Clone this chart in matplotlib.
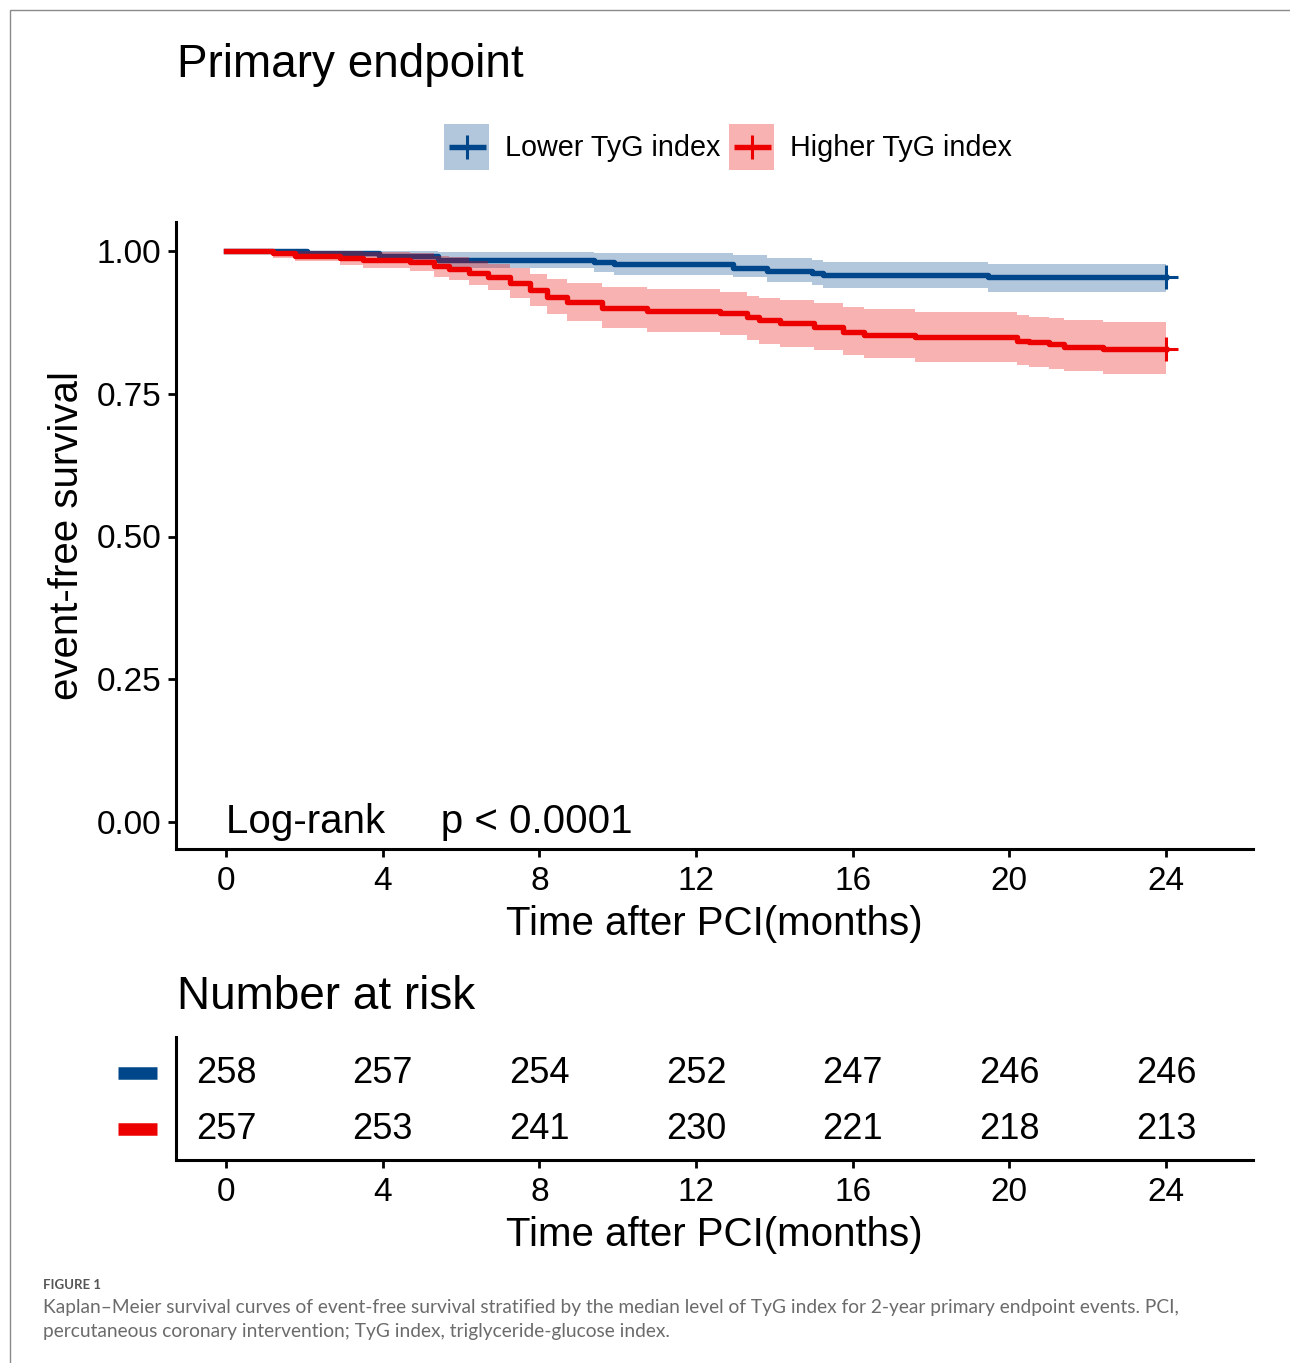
import matplotlib
matplotlib.use("Agg")
import matplotlib.pyplot as plt
import matplotlib.transforms as mtransforms
from matplotlib.patches import Patch, Rectangle
from matplotlib.lines import Line2D
from matplotlib.legend_handler import HandlerTuple, HandlerBase

plt.rcParams['font.family'] = ['Liberation Sans', 'DejaVu Sans']

# ---------------- data ----------------
groups = ["Lower TyG index", "Higher TyG index"]
colors = ["#00468B", "#ED0000"]

low_time = [0, 2.07, 3.9, 5.4, 9.4, 9.9, 12.95, 13.8, 14.97, 15.24, 19.45]
low_surv = [1.0, 0.996, 0.992, 0.984, 0.980, 0.977, 0.971, 0.965, 0.961, 0.958, 0.954]
low_lo = [1.0, 0.989, 0.981, 0.970, 0.963, 0.958, 0.955, 0.946, 0.940, 0.935, 0.929]
low_hi = [1.0, 1.0, 1.0, 0.999, 0.997, 0.996, 0.993, 0.987, 0.984, 0.981, 0.978]

high_time = [0, 1.2, 1.76, 2.9, 3.5, 4.7, 5.3, 5.7, 6.2, 6.7, 7.25, 7.76, 8.2, 8.7,
             9.6, 10.75, 12.6, 13.3, 13.6, 14.15, 15.0, 15.75, 16.3, 17.6, 20.2,
             20.5, 21.0, 21.4, 22.4]
high_surv = [1.0, 0.996, 0.992, 0.988, 0.984, 0.980, 0.973, 0.969, 0.961, 0.955, 0.944,
             0.932, 0.920, 0.911, 0.900, 0.895, 0.891, 0.885, 0.879, 0.874, 0.867, 0.859,
             0.853, 0.849, 0.843, 0.840, 0.837, 0.832, 0.828]
high_lo = [1.0, 0.988, 0.982, 0.975, 0.970, 0.965, 0.955, 0.949, 0.940, 0.932, 0.918,
           0.903, 0.889, 0.878, 0.865, 0.859, 0.853, 0.845, 0.838, 0.832, 0.826, 0.818,
           0.812, 0.806, 0.800, 0.797, 0.793, 0.789, 0.785]
high_hi = [1.0, 1.0, 1.0, 1.0, 0.999, 0.996, 0.991, 0.989, 0.983, 0.978, 0.970, 0.960,
           0.951, 0.944, 0.937, 0.933, 0.928, 0.922, 0.918, 0.914, 0.909, 0.902, 0.898,
           0.894, 0.888, 0.885, 0.882, 0.879, 0.876]

end_time = 24
risk_times = [0, 4, 8, 12, 16, 20, 24]
risk_low = [258, 257, 254, 252, 247, 246, 246]
risk_high = [257, 253, 241, 230, 221, 218, 213]

x_ticks = [0, 4, 8, 12, 16, 20, 24]
y_ticks = [0.0, 0.25, 0.50, 0.75, 1.0]
y_ticklabels = ["0.00", "0.25", "0.50", "0.75", "1.00"]

title = "Primary endpoint"
xlabel = "Time after PCI(months)"
ylabel = "event-free survival"
pval_text = "Log-rank     p < 0.0001"
risk_title = "Number at risk"
caption_head = "FIGURE 1"
caption_lines = [
    "Kaplan\u2013Meier survival curves of event-free survival stratified by the median level of TyG index for 2-year primary endpoint events. PCI,",
    "percutaneous coronary intervention; TyG index, triglyceride-glucose index.",
]

# ---------------- figure ----------------
W, H = 1290, 1363
fig = plt.figure(figsize=(W / 100, H / 100), dpi=100)

def fx(px):
    return px / W

def fy(py):
    return 1 - py / H

# border
fig.patches.append(Rectangle((fx(10), -0.1), 1.2, fy(10) + 0.1, transform=fig.transFigure,
                             fill=False, ec="#8a8a8a", lw=1.0))

xlim = ((176 - 226) / 39.1667, (1253 - 226) / 39.1667)

ax = fig.add_axes([fx(176), fy(849), fx(1253) - fx(176), fy(222) - fy(849)])
ax.set_xlim(*xlim)
ax.set_ylim((822 - 849) / 571, 1 + (251 - 222) / 571)

LW = 3.9
series = [
    (low_time, low_surv, low_lo, low_hi),
    (high_time, high_surv, high_lo, high_hi),
]
for i, (t, s, lo, hi) in enumerate(series):
    tt = list(t) + [end_time]
    ss = list(s) + [s[-1]]
    ll = list(lo) + [lo[-1]]
    hh = list(hi) + [hi[-1]]
    ax.fill_between(tt, ll, hh, step="post", color=colors[i], alpha=0.3,
                    lw=0, zorder=1 + 2 * i)
    ax.step(tt, ss, where="post", color=colors[i], lw=LW, zorder=2 + 2 * i)
    ax.plot([end_time], [s[-1]], marker="+", ms=17, mew=2.2, color=colors[i], zorder=6)

for side in ["top", "right"]:
    ax.spines[side].set_visible(False)
for side in ["left", "bottom"]:
    ax.spines[side].set_linewidth(2.2)
ax.set_xticks(x_ticks)
ax.set_xticklabels([str(v) for v in x_ticks])
ax.set_yticks(y_ticks)
ax.set_yticklabels(y_ticklabels)
ax.tick_params(axis="both", labelsize=24, length=5.5, width=2.0, pad=5, colors="black")
ax.tick_params(axis="x", pad=6.5)
ax.set_xlabel(xlabel, fontsize=29, labelpad=6)
ax.set_ylabel(ylabel, fontsize=29, labelpad=8)
ax.text(0, 0, pval_text, fontsize=29, ha="left", va="center")

fig.text(fx(177), fy(65), title, fontsize=33, ha="left", va="center")


class CenteredLine(HandlerBase):
    def create_artists(self, legend, orig_handle, xdescent, ydescent, width, height,
                       fontsize, trans):
        yc = height / 2 - ydescent
        c = orig_handle.get_color()
        line = Line2D([-xdescent + 0.1 * width, -xdescent + 0.93 * width], [yc, yc],
                      color=c, lw=orig_handle.get_linewidth(), solid_capstyle="butt",
                      transform=trans)
        mark = Line2D([-xdescent + 0.5 * width], [yc], color=c, marker="+",
                      ms=orig_handle.get_markersize(),
                      mew=orig_handle.get_markeredgewidth(), ls="none", transform=trans)
        return [line, mark]


handles = [
    (Patch(fc=colors[0], alpha=0.3, ec="none"),
     Line2D([], [], color=colors[0], lw=LW, marker="+", ms=17, mew=2.2)),
    (Patch(fc=colors[1], alpha=0.3, ec="none"),
     Line2D([], [], color=colors[1], lw=LW, marker="+", ms=17, mew=2.2)),
]
fig.legend(handles, groups,
           handler_map={tuple: HandlerTuple(ndivide=1, pad=0), Line2D: CenteredLine()},
           loc="center", bbox_to_anchor=(fx(728), fy(147)), ncol=2, frameon=False,
           fontsize=20.7, handlelength=1.57, handleheight=2.04, handletextpad=0.55,
           columnspacing=0.3, borderaxespad=0, borderpad=0)

# ---------------- risk table ----------------
rax = fig.add_axes([fx(176), fy(1160), fx(1253) - fx(176), fy(1037) - fy(1160)])
rax.set_xlim(*xlim)
rax.set_ylim(-0.55, 1.65)
for t, n in zip(risk_times, risk_low):
    rax.text(t, 1, str(n), fontsize=26, ha="center", va="center")
for t, n in zip(risk_times, risk_high):
    rax.text(t, 0, str(n), fontsize=26, ha="center", va="center")
for side in ["top", "right"]:
    rax.spines[side].set_visible(False)
for side in ["left", "bottom"]:
    rax.spines[side].set_linewidth(2.2)
rax.set_xticks(x_ticks)
rax.set_xticklabels([str(v) for v in x_ticks])
rax.set_yticks([])
rax.tick_params(axis="x", labelsize=24, length=5.5, width=2.0, pad=6.5)
rax.set_xlabel(xlabel, fontsize=29, labelpad=6)
btr = mtransforms.blended_transform_factory(fig.transFigure, rax.transData)
for yv, c in zip([1, 0], colors):
    rax.add_line(Line2D([fx(118), fx(157)], [yv, yv], color=c, lw=9, solid_capstyle="butt",
                        transform=btr, clip_on=False))
fig.text(fx(177), fy(997), risk_title, fontsize=33, ha="left", va="center")

# ---------------- caption ----------------
fig.text(fx(43), fy(1285), caption_head, fontsize=9.5, fontweight="bold", color="#555555",
         ha="left", va="center", family="Lato")
for k, line in enumerate(caption_lines):
    fig.text(fx(43), fy(1308 + 23 * k), line, fontsize=13.75, color="#6b6b6b",
             ha="left", va="center", family="Lato")

fig.savefig("out.png", dpi=100)
